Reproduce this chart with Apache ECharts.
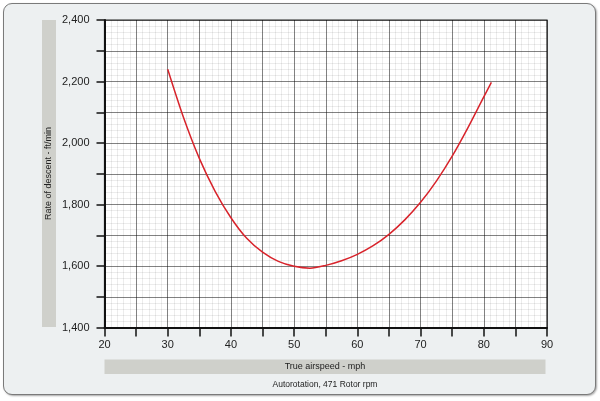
<!DOCTYPE html>
<html>
<head>
<meta charset="utf-8">
<script src="https://cdn.jsdelivr.net/npm/echarts@6/dist/echarts.min.js"></script>
<style>
  html, body { margin: 0; padding: 0; background: #fff; }
  #wrap { position: relative; width: 600px; height: 401px; }
  #panel {
    position: absolute; left: 3px; top: 3px; width: 591px; height: 390px;
    border: 1.5px solid #7a7a7a; border-radius: 9px; background: #edf0f1;
    box-shadow: 1px 1px 2px rgba(0,0,0,0.35);
  }
  #chart { position: absolute; left: 0; top: 0; width: 600px; height: 401px; }
</style>
</head>
<body>
<div id="wrap">
  <div id="panel"></div>
  <div id="chart"></div>
</div>
<script>
// values (every 2.5 mph, plus the end point)
const airspeed    = [30, 32.5, 35, 37.5, 40, 42.5, 45, 47.5, 50, 52.5, 55, 57.5, 60, 62.5, 65, 67.5, 70, 72.5, 75, 77.5, 80, 81.2];
const descentRate = [2240, 2083, 1950, 1843, 1757, 1690, 1645, 1615, 1599, 1593, 1602, 1617, 1638, 1666, 1703, 1750, 1807, 1876, 1957, 2050, 2150, 2197];

// labelled ticks
const xTickLabels = [20, 30, 40, 50, 60, 70, 80, 90];
const yTickLabels = [1400, 1600, 1800, 2000, 2200, 2400];

const xTitle = 'True airspeed - mph';
const yTitle = 'Rate of descent - ft/min';
const caption = 'Autorotation, 471 Rotor rpm';

const FONT = '"Liberation Sans", Arial, sans-serif';
// translucent so crossing lines never punch holes in each other
const MAJOR = 'rgba(0,0,0,0.45)';
const MINOR = 'rgba(0,0,0,0.075)';

const chart = echarts.init(document.getElementById('chart'));

// hidden axes that only draw the fine grid
function fineAxis(min, max, step) {
  return {
    type: 'value', min: min, max: max, interval: step, z: 0,
    axisLine: { show: false }, axisTick: { show: false }, axisLabel: { show: false },
    splitLine: { show: true, lineStyle: { color: MINOR, width: 1 } }
  };
}

const option = {
  backgroundColor: 'transparent',
  animation: false,
  grid: {
    left: 104.5, top: 20, right: 53, bottom: 73.5,
    show: true, backgroundColor: '#fff', borderColor: '#222', borderWidth: 1.2
  },
  graphic: [
    { type: 'rect', shape: { x: 42, y: 20, width: 14, height: 307 }, style: { fill: '#cfd0cb' } },
    { type: 'text', x: 49, y: 173.5, rotation: Math.PI / 2,
      style: { text: yTitle, fill: '#222', font: '9px ' + FONT, align: 'center', verticalAlign: 'middle' } },
    { type: 'rect', shape: { x: 104.5, y: 359.5, width: 441, height: 14.5 }, style: { fill: '#cfd0cb' } },
    { type: 'text', x: 325, y: 367,
      style: { text: xTitle, fill: '#222', font: '9px ' + FONT, align: 'center', verticalAlign: 'middle' } },
    { type: 'text', x: 325, y: 385,
      style: { text: caption, fill: '#222', font: '8.5px ' + FONT, align: 'center', verticalAlign: 'middle' } }
  ],
  xAxis: [{
    type: 'value', min: 20, max: 90, interval: 5, z: 1,
    axisLine: { show: true, onZero: false, lineStyle: { color: '#111', width: 2 } },
    axisTick: { show: true, length: 9, lineStyle: { color: '#111', width: 1.5 } },
    axisLabel: {
      margin: 12, color: '#222', fontFamily: FONT, fontSize: 11,
      formatter: v => xTickLabels.includes(v) ? String(v) : ''
    },
    splitLine: { show: true, lineStyle: { color: MAJOR, width: 1 } }
  }, fineAxis(20, 90, 1)],
  yAxis: [{
    type: 'value', min: 1400, max: 2400, interval: 100, z: 1,
    axisLine: { show: true, onZero: false, lineStyle: { color: '#111', width: 2 } },
    axisTick: { show: true, length: 8, lineStyle: { color: '#111', width: 1.5 } },
    axisLabel: {
      margin: 15, color: '#222', fontFamily: FONT, fontSize: 11,
      formatter: v => yTickLabels.includes(v) ? v.toLocaleString('en-US') : ''
    },
    splitLine: { show: true, lineStyle: { color: MAJOR, width: 1 } }
  }, fineAxis(1400, 2400, 20)],
  series: [{
    type: 'line',
    xAxisIndex: 0, yAxisIndex: 0,
    data: airspeed.map((x, i) => [x, descentRate[i]]),
    smooth: 0.3,
    showSymbol: false,
    lineStyle: { color: '#d8232b', width: 1.5 }
  }]
};

chart.setOption(option);
</script>
</body>
</html>
